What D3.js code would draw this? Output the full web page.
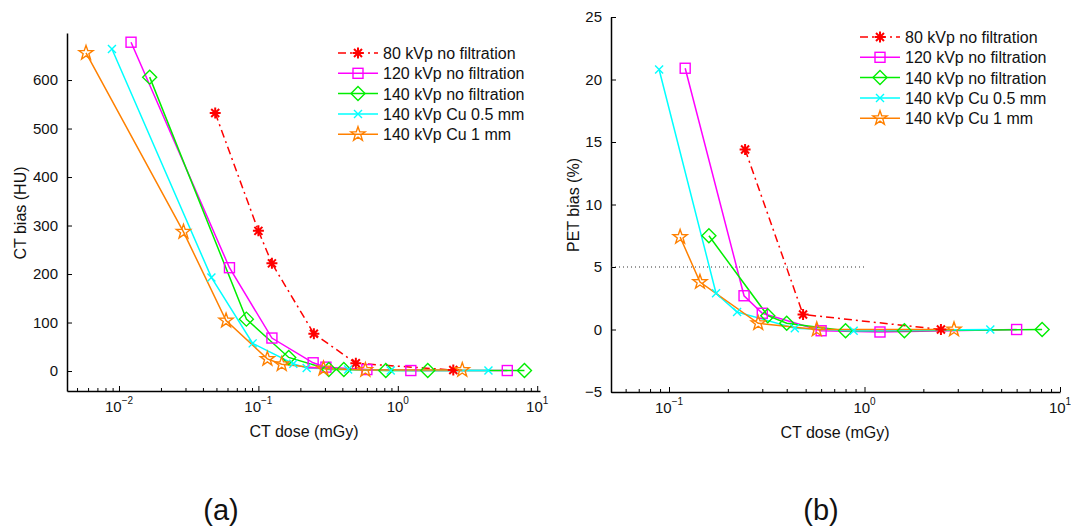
<!DOCTYPE html>
<html><head><meta charset="utf-8">
<script src="https://cdn.jsdelivr.net/npm/d3@7"></script>
<style>body{margin:0;background:#fff}svg{display:block;font-family:"Liberation Sans",Arial,sans-serif}</style>
</head><body><svg id="c" width="1071" height="530"></svg>
<script>
// ---------- data ----------
const seriesNames = ["80 kVp no filtration","120 kVp no filtration","140 kVp no filtration","140 kVp Cu 0.5 mm","140 kVp Cu 1 mm"];
const seriesColors = ["#ff0000","#ff00ff","#00ee00","#00ffff","#ff8000"];
const seriesMarkers = ["asterisk","square","diamond","x","star"];
const seriesDash = ["8,4,2,4",null,null,null,null];

// (a) CT bias (HU) vs CT dose (mGy)
const ctDose80  = [0.049,0.1,0.125,0.25,0.5,2.5];
const ctBias80  = [532,289,222,77,16,2];
const ctDose120 = [0.0122,0.062,0.125,0.247,0.305,0.6,1.24,6.1];
const ctBias120 = [678,213,68,17,8,3,1,1];
const ctDose140 = [0.0166,0.082,0.165,0.32,0.41,0.82,1.64,8.1];
const ctBias140 = [606,107,28,3,3,1,1,1];
const ctDoseCu05 = [0.0089,0.046,0.091,0.178,0.222,0.44,0.89,4.47];
const ctBiasCu05 = [664,193,57,15,6,3,1,1];
const ctDoseCu1 = [0.0058,0.0290,0.0586,0.116,0.147,0.293,0.585,2.9];
const ctBiasCu1 = [656,287,104,25,14,5,2,2];

// (b) PET bias (%) vs CT dose (mGy)
const petDose80  = [0.245,0.485,2.46];
const petBias80  = [14.4,1.2,0];
const petDose120 = [0.121,0.242,0.30,0.6,1.2,6.0];
const petBias120 = [20.9,2.7,1.3,-0.1,-0.2,0];
const petDose140 = [0.16,0.32,0.40,0.8,1.6,8.1];
const petBias140 = [7.5,1.1,0.5,-0.1,-0.1,0];
const petDoseCu05 = [0.089,0.174,0.223,0.44,0.88,4.4];
const petBiasCu05 = [20.8,2.9,1.4,0.1,-0.1,0];
const petDoseCu1 = [0.114,0.144,0.286,0.57,2.87];
const petBiasCu1 = [7.4,3.8,0.5,0,0];

const ctYTicks = [0,100,200,300,400,500,600];
const petYTicks = [-5,0,5,10,15,20,25];
const ctXTicks = [-2,-1,0,1];   // exponents
const petXTicks = [-1,0,1];
const petThreshold = 5;

// ---------- helpers ----------
const svg = d3.select("#c");
const zip = (xs, ys) => xs.map((x,i)=>({x, y: ys[i]}));

function starPath(R){
  const r = R*0.4; let p = [];
  for(let i=0;i<10;i++){
    const a = -Math.PI/2 + i*Math.PI/5;
    const rr = i%2===0 ? R : r;
    p.push([rr*Math.cos(a), rr*Math.sin(a)]);
  }
  return "M"+p.map(q=>q[0].toFixed(2)+","+q[1].toFixed(2)).join("L")+"Z";
}
function marker(g, type, color, cx, cy){
  const m = g.append("g").attr("transform",`translate(${cx},${cy})`)
    .attr("fill","none").attr("stroke",color).attr("stroke-width",1.4);
  if(type==="asterisk"){
    const s=5.5, d=4;
    m.append("path").attr("d",`M${-s},0L${s},0M0,${-s}L0,${s}M${-d},${-d}L${d},${d}M${-d},${d}L${d},${-d}`).attr("stroke-width",2);
  } else if(type==="square"){
    m.append("rect").attr("x",-5).attr("y",-5).attr("width",10).attr("height",10);
  } else if(type==="diamond"){
    m.append("path").attr("d","M0,-7L7,0L0,7L-7,0Z");
  } else if(type==="x"){
    m.append("path").attr("d","M-4,-4L4,4M-4,4L4,-4");
  } else if(type==="star"){
    m.append("path").attr("d",starPath(7.5));
  }
}

function panel(cfg){
  const g = svg.append("g");
  const x = d3.scaleLog().domain(cfg.xDomain).range(cfg.xRange);
  const y = d3.scaleLinear().domain(cfg.yDomain).range(cfg.yRange);
  const x0 = cfg.xRange[0], yb = cfg.yRange[0];

  // minor ticks
  const minor = [];
  const lo = Math.floor(Math.log10(cfg.xDomain[0])), hi = Math.ceil(Math.log10(cfg.xDomain[1]));
  for(let e=lo;e<hi;e++) for(let k=2;k<=9;k++){ const v=k*Math.pow(10,e); if(v>=cfg.xDomain[0]&&v<=cfg.xDomain[1]) minor.push(v); }
  g.append("g").attr("transform",`translate(0,${yb})`)
    .call(d3.axisBottom(x).tickValues(minor).tickSize(-3).tickSizeOuter(0).tickFormat(""))
    .call(a=>a.select(".domain").remove());
  const xa = g.append("g").attr("transform",`translate(0,${yb})`)
    .call(d3.axisBottom(x).tickValues(cfg.xTicks.map(e=>Math.pow(10,e))).tickSize(-5).tickSizeOuter(0).tickFormat(""));
  xa.select(".domain").attr("stroke-width",1.5);
  cfg.xTicks.forEach(e=>{
    const t = g.append("text").attr("x",x(Math.pow(10,e))).attr("y",yb+21).attr("text-anchor","middle")
      .attr("font-size",15).attr("fill","#111");
    t.append("tspan").text("10");
    t.append("tspan").attr("dy",-8).attr("font-size",10).text(String(e).replace("-","\u2212"));
  });
  // y axis
  const ya = g.append("g").attr("transform",`translate(${x0},0)`)
    .call(d3.axisLeft(y).tickValues(cfg.yTicks).tickSize(-5).tickSizeOuter(0).tickPadding(9)
      .tickFormat(v=>String(v).replace("-","\u2212")));
  ya.select(".domain").attr("stroke-width",1.5);
  ya.selectAll("text").attr("font-size",15).attr("fill","#111").attr("font-family","Liberation Sans, Arial, sans-serif");
  xa.selectAll("line").attr("stroke","#000"); ya.selectAll("line").attr("stroke","#000");

  // axis titles
  g.append("text").attr("x",cfg.xLabelX).attr("y",yb+46).attr("text-anchor","middle").attr("font-size",16).attr("fill","#111").text("CT dose (mGy)");
  g.append("text").attr("transform",`translate(${cfg.yLabelX},${cfg.yLabelY}) rotate(-90)`).attr("text-anchor","middle")
    .attr("font-size",16).attr("fill","#111").text(cfg.yLabel);

  if(cfg.threshold!==undefined){
    g.append("line").attr("x1",x(cfg.xDomain[0])).attr("x2",x(1)).attr("y1",y(cfg.threshold)).attr("y2",y(cfg.threshold))
      .attr("stroke","#333").attr("stroke-width",1).attr("stroke-dasharray","1,3");
  }

  const line = d3.line().x(d=>x(d.x)).y(d=>y(d.y));
  cfg.series.forEach((s,i)=>{
    const data = zip(s[0], s[1]);
    const p = g.append("path").attr("d",line(data)).attr("fill","none")
      .attr("stroke",seriesColors[i]).attr("stroke-width",1.5);
    if(seriesDash[i]) p.attr("stroke-dasharray",seriesDash[i]);
  });
  cfg.series.forEach((s,i)=>{
    zip(s[0], s[1]).forEach(d=>marker(g, seriesMarkers[i], seriesColors[i], x(d.x), y(d.y)));
  });

  // legend
  seriesNames.forEach((n,i)=>{
    const ly = cfg.legY + i*20.3;
    const l = g.append("line").attr("x1",cfg.legX).attr("x2",cfg.legX+40).attr("y1",ly).attr("y2",ly)
      .attr("stroke",seriesColors[i]).attr("stroke-width",1.5);
    if(seriesDash[i]) l.attr("stroke-dasharray",seriesDash[i]);
    marker(g, seriesMarkers[i], seriesColors[i], cfg.legX+20, ly);
    g.append("text").attr("x",cfg.legX+45).attr("y",ly+6).attr("font-size",16).attr("fill","#111").text(n);
  });

  g.append("text").attr("x",cfg.tagX).attr("y",520).attr("text-anchor","middle").attr("font-size",29).attr("fill","#111").text(cfg.tag);
}

panel({
  xDomain:[Math.pow(10,-2.373), Math.pow(10,1.02)], xRange:[67,540],
  yDomain:[-41.2,697], yRange:[391,33],
  xTicks: ctXTicks, yTicks: ctYTicks,
  yLabel:"CT bias (HU)", yLabelX:26, yLabelY:213, xLabelX:304,
  series:[[ctDose80,ctBias80],[ctDose120,ctBias120],[ctDose140,ctBias140],[ctDoseCu05,ctBiasCu05],[ctDoseCu1,ctBiasCu1]],
  legX:338, legY:53, tag:"(a)", tagX:221
});
panel({
  xDomain:[0.0505, 10], xRange:[611,1060],
  yDomain:[-5,25], yRange:[392,17],
  xTicks: petXTicks, yTicks: petYTicks,
  yLabel:"PET bias (%)", yLabelX:579, yLabelY:205, xLabelX:835,
  threshold: petThreshold,
  series:[[petDose80,petBias80],[petDose120,petBias120],[petDose140,petBias140],[petDoseCu05,petBiasCu05],[petDoseCu1,petBiasCu1]],
  legX:860, legY:37, tag:"(b)", tagX:821
});
</script></body></html>
